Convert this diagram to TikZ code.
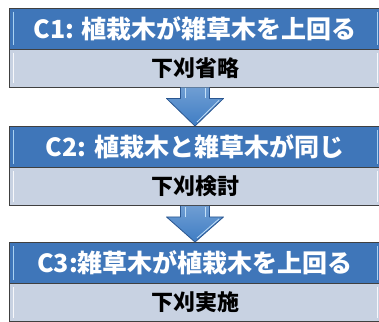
\documentclass[tikz,border=0pt]{standalone}
\usepackage{fontspec}
\setmainfont{Noto Sans CJK JP}
\usetikzlibrary{calc}
\definecolor{hblue}{HTML}{3F76B9}
\definecolor{bgray}{HTML}{C8D2E2}
\definecolor{edge}{HTML}{404040}
\definecolor{ablue}{HTML}{3F7DC4}
\definecolor{adark}{HTML}{2A5690}
\definecolor{hilite}{HTML}{A9D2F2}
\tikzset{
  hdr/.style={draw=edge, fill=hblue, line width=0.9pt, minimum width=372pt, minimum height=41pt, inner sep=0pt, text=white, font=\bfseries\fontsize{25}{25}\selectfont},
  bdy/.style={draw=edge, fill=bgray, line width=0.9pt, minimum width=372pt, minimum height=38pt, inner sep=0pt, text=black, font=\bfseries\fontsize{22}{22}\selectfont},
  hl/.style={draw=hilite, line width=1.2pt},
  bl/.style={draw=white!85!bgray, line width=1.2pt},
  downarrow/.style={draw=adark, line width=0.8pt, top color=ablue!75!white, bottom color=ablue, line join=round},
  shaftline/.style={draw=hilite!70!white, line width=0.8pt}
}
\begin{document}
\begin{tikzpicture}[x=1pt,y=1pt]
\useasboundingbox (0,0) rectangle (379,321);
\fill[white] (0,0) rectangle (379,321);
% boxes
\node[hdr] (h1) at (195,292.5) {C1: 植栽木が雑草木を上回る};
\node[bdy] (b1) at (195,253) {下刈省略};
\node[hdr] (h2) at (195,174) {C2: 植栽木と雑草木が同じ};
\node[bdy] (b2) at (195,134.5) {下刈検討};
\node[hdr] (h3) at (195,58) {C3:雑草木が植栽木を上回る};
\node[bdy] (b3) at (195,18.5) {下刈実施};
% bevel highlights
\foreach \n in {h1,h2,h3}{
  \draw[hl] ($(\n.north west)+(5,-4)$) -- ($(\n.south west)+(5,4)$);
  \draw[hl] ($(\n.north east)+(-4,-4)$) -- ($(\n.south east)+(-4,4)$);
}
\foreach \n in {b1,b2,b3}{
  \draw[bl] ($(\n.north west)+(5,-4)$) -- ($(\n.south west)+(5,4)$);
  \draw[bl] ($(\n.north east)+(-4,-4)$) -- ($(\n.south east)+(-4,4)$);
}
% arrows
\foreach \a/\b in {b1/h2,b2/h3}{
  \draw[downarrow] ($(\a.south)+(-14.5,0)$) -- ($(\a.south)+(-14.5,-11)$) -- ($(\a.south)+(-28.5,-11)$)
     -- (\b.north) -- ($(\a.south)+(28.5,-11)$) -- ($(\a.south)+(14.5,-11)$) -- ($(\a.south)+(14.5,0)$);
  \draw[shaftline] ($(\a.south)+(-10,-1)$) -- ($(\a.south)+(-10,-11)$);
  \draw[shaftline] ($(\a.south)+(10,-1)$) -- ($(\a.south)+(10,-11)$);
  \draw[shaftline] ($(\a.south)+(24,-13)$) -- ($(\b.north)+(2,4)$);
}
\end{tikzpicture}
\end{document}
